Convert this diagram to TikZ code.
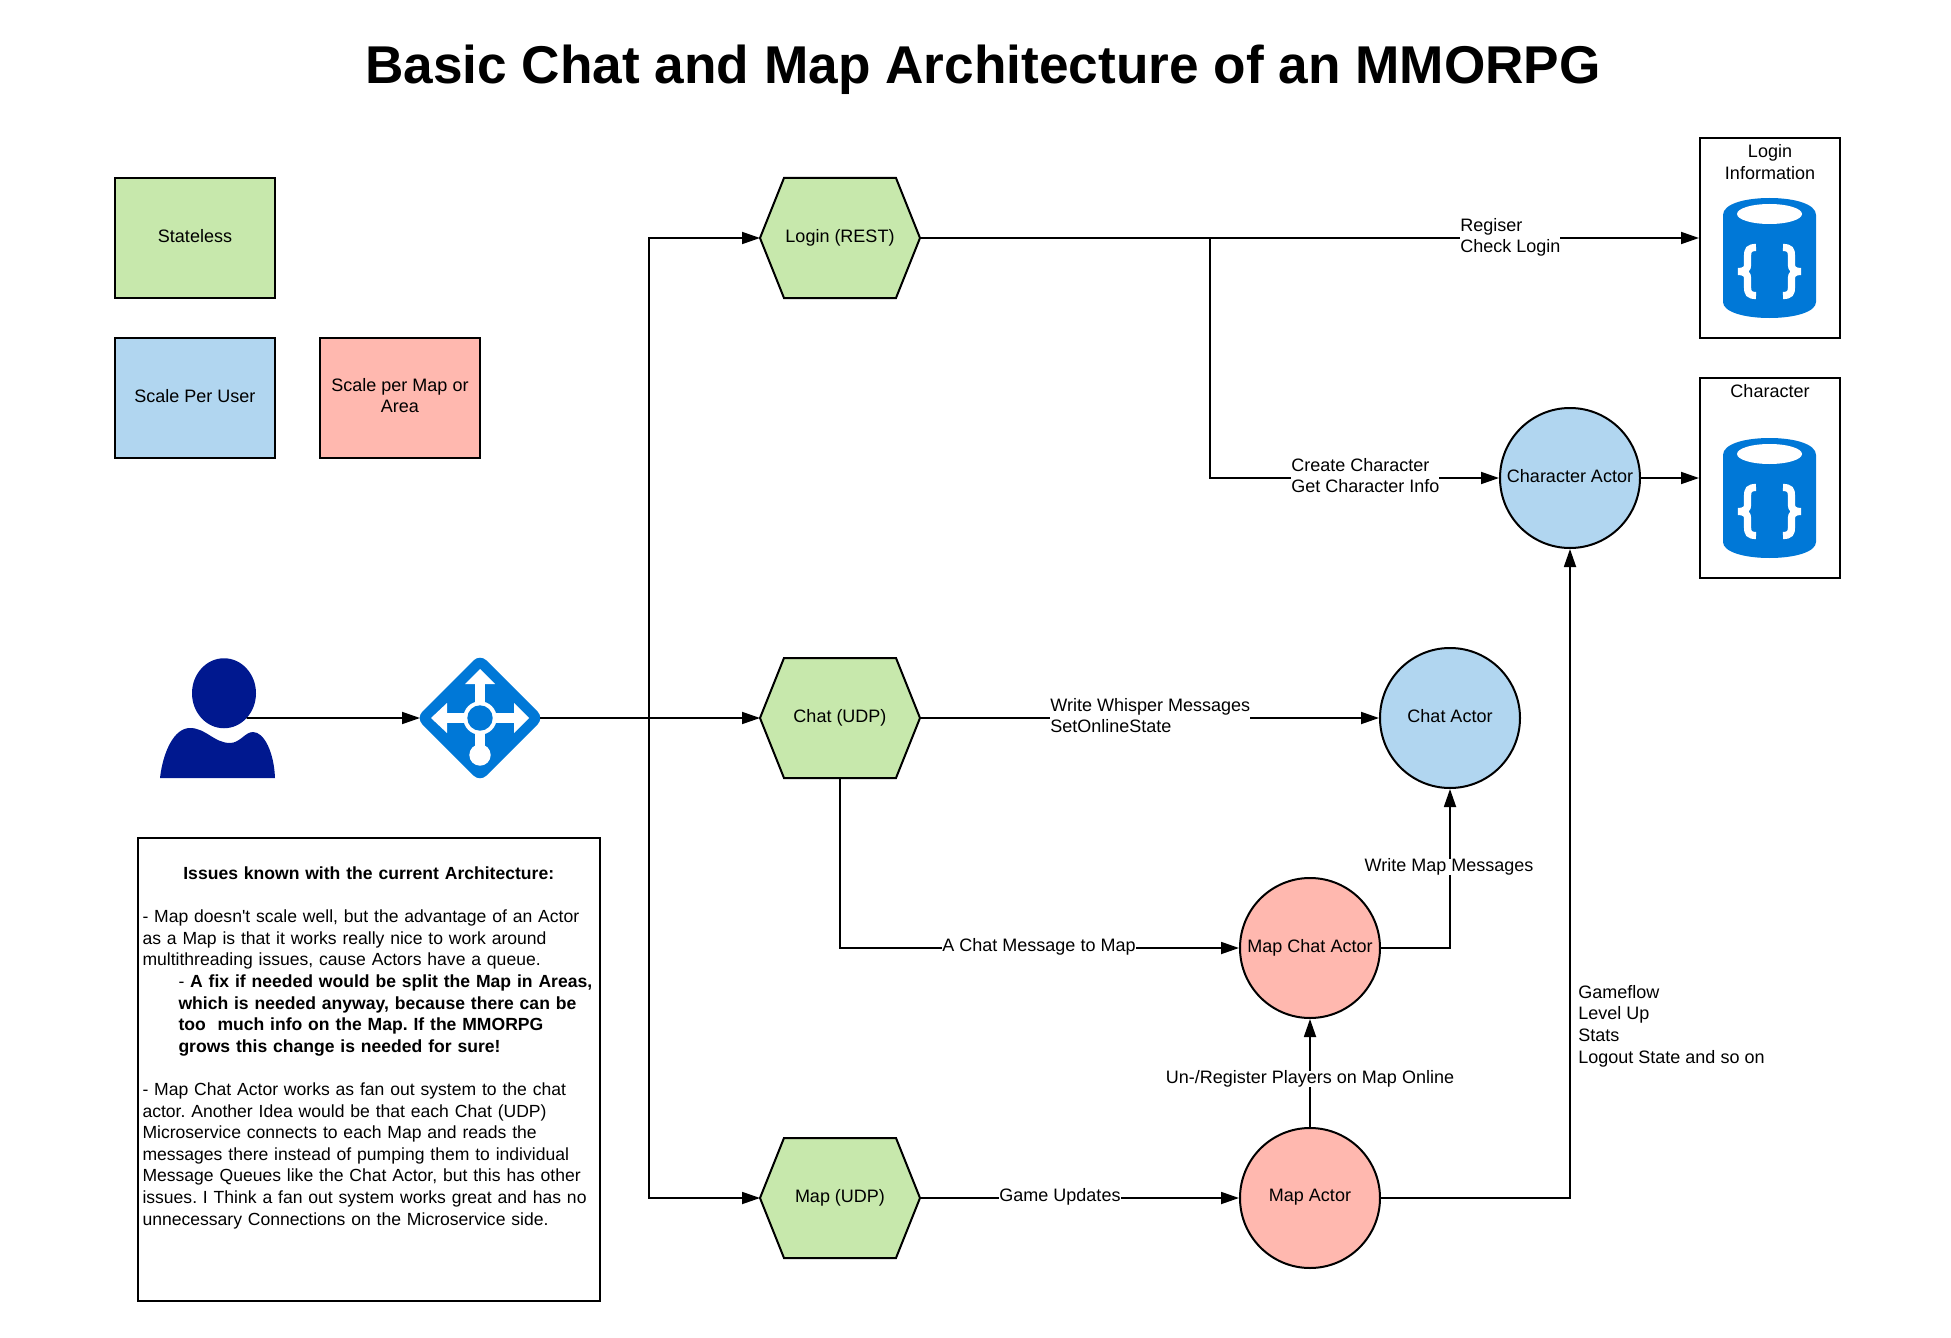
\documentclass[tikz,border=0pt]{standalone}
\usepackage{fontspec}
\setmainfont{Liberation Sans}
\usetikzlibrary{arrows.meta,shapes.geometric,shapes.symbols}

\definecolor{statelessgreen}{RGB}{199,232,172}
\definecolor{userblue}{RGB}{177,214,240}
\definecolor{mapred}{RGB}{255,184,175}
\definecolor{azure}{RGB}{0,120,215}
\definecolor{navy}{RGB}{0,24,143}

\tikzset{
    bodytext/.style={font=\fontsize{9}{10.8}\selectfont\frenchspacing},
    notetext/.style={font=\fontsize{8.78}{10.8}\selectfont\frenchspacing},
    legendbox/.style={rectangle, draw, line width=1pt, bodytext, align=center, minimum width=80pt, minimum height=60pt, inner sep=1pt, text depth=2.5pt},
    hexbox/.style={signal, signal to=east and west, signal from=nowhere, signal pointer angle=136.4, draw, line width=1pt, bodytext, minimum width=80pt, minimum height=60pt, inner sep=0pt, outer sep=0pt, fill=statelessgreen},
    actor/.style={circle, draw, line width=1pt, bodytext, minimum size=70pt, inner sep=0pt, text depth=2.5pt},
    dbbox/.style={rectangle, draw, line width=1pt, minimum width=70pt, minimum height=100pt},
    flowlabel/.style={bodytext, fill=white, inner sep=0pt, align=left},
    flow/.style={-{Triangle[length=9pt,width=6pt]}, line width=0.9pt},
    pics/dbicon/.style={code={
        \fill[azure] (-46.5,-43) .. controls (-46.5,-54) and (-25,-60) .. (0,-60) .. controls (25,-60) and (46.5,-54) .. (46.5,-43) -- (46.5,44) .. controls (46.5,54) and (25,60) .. (0,60) .. controls (-25,60) and (-46.5,54) .. (-46.5,44) -- cycle;
        \fill[white] (0,-44) ellipse (32.5 and 10);
        \foreach \s in {1,-1} {
            \draw[white, line width=3.6pt, xscale=\s] (-13.5,-10.5) .. controls (-20.5,-10.5) and (-22,-8) .. (-22,-2) -- (-22,7) .. controls (-22,10) and (-23.5,13.5) .. (-31.5,13.5) .. controls (-23.5,13.5) and (-22,17) .. (-22,20) -- (-22,29) .. controls (-22,35) and (-20.5,37.5) .. (-13.5,37.5);
        }
    }}
}

\begin{document}
\begin{tikzpicture}[x=0.5pt, y=-0.5pt, >=latex]
    \useasboundingbox (0,0) rectangle (1951,1338);

    \node[font=\bfseries\fontsize{26.6}{30}\selectfont] (title) at (983,70) {Basic Chat and Map Architecture of an MMORPG};

    % Legend
    \node[legendbox, fill=statelessgreen] (stateless) at (195,238) {Stateless};
    \node[legendbox, fill=userblue] (scaleuser) at (195,398) {Scale Per User};
    \node[legendbox, fill=mapred] (scalemap) at (400,398) {Scale per Map or\\Area};

    % User and gateway icons
    \fill[navy] (160,778) .. controls (163,752) and (174,728) .. (190,728) .. controls (206,728) and (214,743) .. (230,743) .. controls (240,743) and (245,732) .. (253,732) .. controls (264,732) and (274,752) .. (275,778) -- cycle;
    \node[ellipse, fill=navy, minimum width=32pt, minimum height=35pt, inner sep=0pt, outer sep=0pt] (userhead) at (224,693.25) {};

    \node[diamond, minimum size=60pt, inner sep=0pt, outer sep=0pt] (gateway) at (480,718) {};
    \fill[azure, rounded corners=4.5pt] (480,654) -- (544,718) -- (480,782) -- (416,718) -- cycle;
    \draw[white, line width=5pt] (480,684) -- (480,755) (447,718) -- (514,718);
    \fill[white] (480,669) -- (495,684) -- (465,684) -- cycle;
    \fill[white] (431,718) -- (447,703) -- (447,733) -- cycle;
    \fill[white] (529,718) -- (514,703) -- (514,733) -- cycle;
    \fill[white] (480,718) circle (16.7);
    \fill[azure] (480,718) circle (12.7);
    \fill[white] (480,755) circle (10.7);

    % Services and actors
    \node[hexbox] (login) at (840,238) {Login (REST)};
    \node[hexbox] (chat) at (840,718) {Chat (UDP)};
    \node[hexbox] (map) at (840,1198) {Map (UDP)};

    \node[actor, fill=userblue] (characteractor) at (1570,478) {Character Actor};
    \node[actor, fill=userblue] (chatactor) at (1450,718) {Chat Actor};
    \node[actor, fill=mapred] (mapchatactor) at (1310,948) {Map Chat Actor};
    \node[actor, fill=mapred] (mapactor) at (1310,1198) {Map Actor};

    % Databases
    \node[dbbox] (logindb) at (1770,238) {};
    \node[dbbox] (characterdb) at (1770,478) {};
    \pic at (1769.5,258) {dbicon};
    \pic at (1769.5,498) {dbicon};
    \node[bodytext, align=center, anchor=north, inner sep=0pt] (logintitle) at (1770,144.5) {Login\\Information};
    \node[bodytext, align=center, anchor=north, inner sep=0pt] (charactertitle) at (1770,384) {Character};

    % Arrows
    \coordinate (trunk) at (649,718);
    \coordinate (branch) at (1210,238);
    \draw[flow] (userhead.south east) -- (gateway.west);
    \draw[flow] (gateway.east) -- (chat.west);
    \draw[flow] (trunk) |- (login.west);
    \draw[flow] (trunk) |- (map.west);
    \draw[flow] (login.east) -- (logindb.west);
    \draw[flow] (branch) |- (characteractor.west);
    \draw[flow] (characteractor.east) -- (characterdb.west);
    \draw[flow] (chat.east) -- (chatactor.west);
    \draw[flow] (chat.south) |- (mapchatactor.west);
    \draw[flow] (mapchatactor.east) -| (chatactor.south);
    \draw[flow] (mapactor.north) -- (mapchatactor.south);
    \draw[flow] (map.east) -- (mapactor.west);
    \draw[flow] (mapactor.east) -| (characteractor.south);

    % Connector labels on top of the lines
    \node[flowlabel, anchor=west] (registerlabel) at (1460,237.5) {Regiser\\Check Login};
    \node[flowlabel, anchor=west] (createlabel) at (1291,475.5) {Create Character\\Get Character Info};
    \node[flowlabel, anchor=west] (whisperlabel) at (1050,715.5) {Write Whisper Messages\\SetOnlineState};
    \node[flowlabel] (chatmaplabel) at (1039,947) {A Chat Message to Map};
    \node[flowlabel] (updateslabel) at (1060,1197) {Game Updates};
    \node[flowlabel] (writemaplabel) at (1449,867) {Write Map Messages};
    \node[flowlabel] (registerplayers) at (1310,1079) {Un-/Register Players on Map Online};
    \node[flowlabel, anchor=west] (gameflowlabel) at (1578,1026) {Gameflow\\Level Up\\Stats\\Logout State and so on};

    % Notes
    \node[rectangle, draw, line width=1pt, notetext, anchor=north west, align=left, text width=226.25pt, inner sep=2.5pt, outer sep=0pt, minimum height=231.5pt] (issues) at (137.5,838) {%
        \makebox[\linewidth]{\bfseries Issues known with the current Architecture:}\\
        \mbox{}\\
        - Map doesn\textquotesingle t scale well, but the advantage of an Actor\\
        as a Map is that it works really nice to work around\\
        multithreading issues, cause Actors have a queue.\\
        \hspace*{18pt}- \textbf{A fix if needed would be split the Map in Areas,}\\
        \hspace*{18pt}\textbf{which is needed anyway, because there can be}\\
        \hspace*{18pt}\textbf{too\ \ much info on the Map. If the MMORPG}\\
        \hspace*{18pt}\textbf{grows this change is needed for sure!}\\
        \mbox{}\\
        - Map Chat Actor works as fan out system to the chat\\
        actor. Another Idea would be that each Chat (UDP)\\
        Microservice connects to each Map and reads the\\
        messages there instead of pumping them to individual\\
        Message Queues like the Chat Actor, but this has other\\
        issues. I Think a fan out system works great and has no\\
        unnecessary Connections on the Microservice side.\\
        \mbox{}\\[2pt]
        \mbox{}};
\end{tikzpicture}
\end{document}
